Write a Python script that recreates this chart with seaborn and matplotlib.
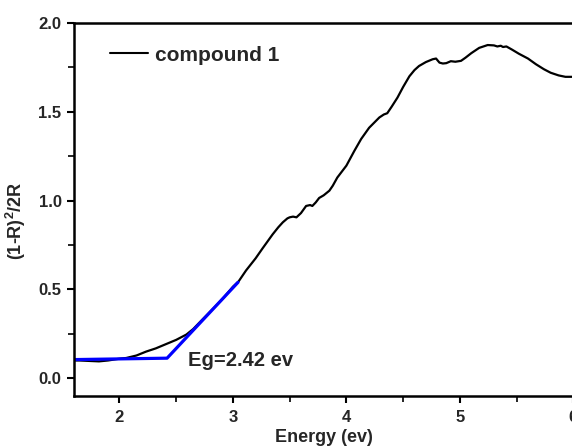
import matplotlib
matplotlib.use("Agg")
import matplotlib.pyplot as plt
import seaborn as sns
import pandas as pd
from matplotlib.ticker import MultipleLocator

energy = [1.60, 1.65, 1.75, 1.82, 1.90, 2.00, 2.06, 2.15, 2.235, 2.32, 2.41, 2.50,
          2.59, 2.65, 2.70, 2.80, 2.90, 3.00, 3.05, 3.116, 3.20, 3.26, 3.35, 3.40,
          3.44, 3.48, 3.50, 3.53, 3.56, 3.60, 3.645, 3.68, 3.70, 3.73, 3.76, 3.80,
          3.85, 3.88, 3.92, 4.00, 4.07, 4.13, 4.20, 4.29, 4.33, 4.36, 4.40, 4.45,
          4.50, 4.555, 4.60, 4.64, 4.70, 4.76, 4.79, 4.82, 4.85, 4.88, 4.92, 4.96,
          5.01, 5.05, 5.10, 5.17, 5.245, 5.30, 5.33, 5.36, 5.38, 5.41, 5.46, 5.52,
          5.60, 5.67, 5.74, 5.80, 5.87, 5.93, 6.00]
absorb = [0.100, 0.100, 0.097, 0.095, 0.100, 0.110, 0.114, 0.128, 0.150, 0.168, 0.192, 0.216,
          0.246, 0.277, 0.310, 0.375, 0.440, 0.515, 0.545, 0.607, 0.675, 0.730, 0.810, 0.850,
          0.878, 0.900, 0.906, 0.910, 0.906, 0.930, 0.970, 0.975, 0.970, 0.990, 1.015, 1.030,
          1.056, 1.084, 1.130, 1.197, 1.280, 1.347, 1.410, 1.468, 1.485, 1.492, 1.530, 1.580,
          1.640, 1.700, 1.735, 1.758, 1.780, 1.796, 1.800, 1.777, 1.772, 1.774, 1.785, 1.782,
          1.787, 1.805, 1.830, 1.860, 1.876, 1.874, 1.868, 1.872, 1.865, 1.868, 1.850, 1.827,
          1.800, 1.768, 1.740, 1.720, 1.705, 1.697, 1.697]

fit_x = [1.60, 2.42, 3.045]
fit_y = [0.105, 0.113, 0.54]

series_label = "compound 1"
annotation = "Eg=2.42 ev"
x_ticks = [2, 3, 4, 5, 6]
y_ticks = [0.0, 0.5, 1.0, 1.5, 2.0]

sns.set_style("ticks")
plt.rcParams['font.family'] = ['Liberation Sans', 'DejaVu Sans']
plt.rcParams['font.weight'] = 'bold'
plt.rcParams['mathtext.default'] = 'regular'

fig = plt.figure(figsize=(5.72, 4.46), dpi=100)
ax = fig.add_axes([0.1294, 0.1121, 0.873, 0.8363])

df = pd.DataFrame({"x": energy, "y": absorb})
dfit = pd.DataFrame({"x": fit_x, "y": fit_y})
sns.lineplot(data=df, x="x", y="y", ax=ax, color="black", linewidth=1.6, label=series_label)
sns.lineplot(data=dfit, x="x", y="y", ax=ax, color="#0000ff", linewidth=2.3, sort=False)

ax.set_xlim(1.6, 6.0)
ax.set_ylim(-0.1, 2.0)
ax.set_xticks(x_ticks)
ax.set_yticks(y_ticks)
ax.xaxis.set_minor_locator(MultipleLocator(0.5))
ax.yaxis.set_minor_locator(MultipleLocator(0.25))
ax.set_xticklabels([str(t) for t in x_ticks])
ax.set_yticklabels([f"{t:.1f}" for t in y_ticks])

for s in ax.spines.values():
    s.set_linewidth(1.8)
    s.set_color("black")
ax.tick_params(which="major", direction="out", length=5, width=1.5, labelsize=12, color="black")
ax.tick_params(which="minor", direction="out", length=4, width=1.2, color="black")
ax.tick_params(axis="x", pad=5)
ax.tick_params(axis="y", pad=4)
for lab in ax.get_xticklabels() + ax.get_yticklabels():
    lab.set_fontweight("bold")

ax.set_xlabel("Energy (ev)", fontsize=13, fontweight="bold", labelpad=3)
ax.set_ylabel("(1-R)$^2$/2R", fontsize=13, fontweight="bold")
ax.yaxis.set_label_coords(-0.092, 0.47)

ax.text(2.608, 0.069, annotation, fontsize=14.5, fontweight="bold", ha="left", va="baseline")

leg = ax.legend(loc="center left", bbox_to_anchor=(0.072, 0.914), frameon=False,
                borderpad=0, borderaxespad=0, handlelength=1.83, handletextpad=0.34,
                prop={"size": 15, "weight": "bold"})
for h in leg.get_lines():
    h.set_linewidth(1.5)

fig.savefig("out.png", dpi=100)
